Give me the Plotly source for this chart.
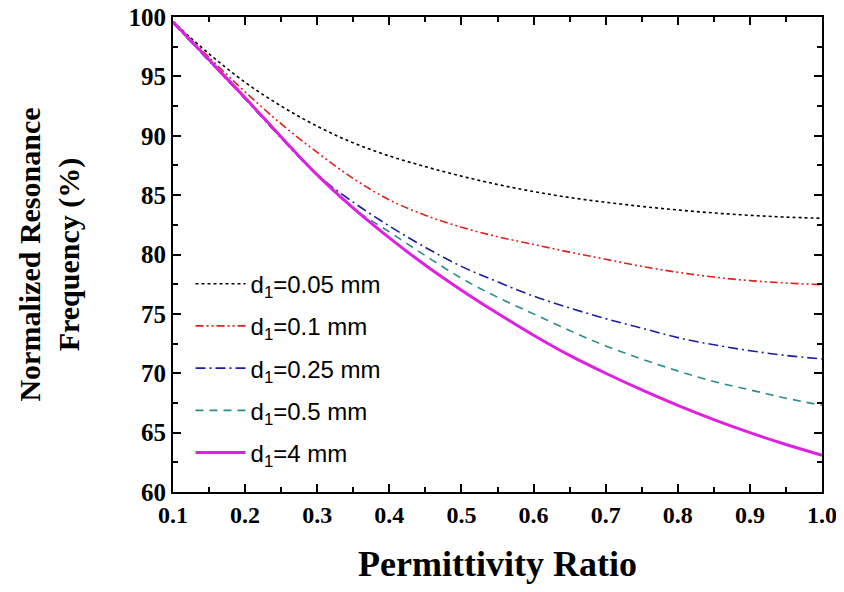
import plotly.graph_objects as go

permittivity_ratio = [0.10, 0.15, 0.20, 0.25, 0.30, 0.35, 0.40, 0.45, 0.50, 0.55,
                      0.60, 0.65, 0.70, 0.75, 0.80, 0.85, 0.90, 0.95, 1.00]

freq_d005 = [99.6, 96.9, 94.5, 92.5, 90.8, 89.4, 88.3, 87.4, 86.6, 85.9,
             85.3, 84.8, 84.4, 84.05, 83.75, 83.5, 83.3, 83.15, 83.05]
freq_d01 = [99.6, 96.6, 93.7, 91.0, 88.6, 86.4, 84.6, 83.3, 82.3, 81.5,
            80.85, 80.2, 79.6, 79.0, 78.5, 78.1, 77.8, 77.6, 77.45]
freq_d025 = [99.5, 96.3, 93.1, 89.8, 86.7, 84.4, 82.4, 80.6, 79.0, 77.7,
             76.5, 75.5, 74.6, 73.8, 73.0, 72.4, 71.9, 71.5, 71.2]
freq_d05 = [99.5, 96.3, 93.1, 89.9, 86.7, 83.9, 81.9, 79.9, 78.0, 76.4,
            75.0, 73.6, 72.3, 71.2, 70.2, 69.3, 68.6, 67.9, 67.3]
freq_d4 = [99.6, 96.4, 93.2, 89.9, 86.7, 83.9, 81.4, 79.1, 77.0, 75.05,
           73.2, 71.5, 70.0, 68.6, 67.3, 66.1, 65.0, 64.0, 63.1]

x_range = [0.1, 1.0]
y_range = [60, 100]

series_names = ["d<sub>1</sub>=0.05 mm", "d<sub>1</sub>=0.1 mm", "d<sub>1</sub>=0.25 mm",
                "d<sub>1</sub>=0.5 mm", "d<sub>1</sub>=4 mm"]
series_values = [freq_d005, freq_d01, freq_d025, freq_d05, freq_d4]
series_colors = ["#000000", "#e0201b", "#1c1ca8", "#2a8c8c", "#e020e0"]
series_dash = ["3px,3px", "8px,3px,2px,3px,2px,3px", "10px,4px,2px,4px", "8px,6px", "solid"]
series_width = [1.6, 1.6, 1.6, 1.6, 3]

fig = go.Figure()
for i, (name, vals) in enumerate(zip(series_names, series_values)):
    fig.add_trace(go.Scatter(
        x=permittivity_ratio, y=vals, mode="lines", name=name,
        legendgroup=f"g{i}",
        line=dict(color=series_colors[i], dash=series_dash[i], width=series_width[i], shape="spline"),
    ))

# invisible trace to carry the mirrored (top/right) axes with minor ticks
fig.add_trace(go.Scatter(
    x=permittivity_ratio, y=freq_d4, xaxis="x2", yaxis="y2", mode="lines",
    line=dict(width=0), opacity=0, showlegend=False, hoverinfo="skip",
))

serif = "Liberation Serif"
common = dict(
    showline=True, linecolor="black", linewidth=2,
    ticks="inside", ticklen=8, tickwidth=2, tickcolor="black",
    showgrid=False, zeroline=False, automargin=False,
)
minor_x = dict(ticks="inside", ticklen=5, tickwidth=1.5, tickcolor="black", dtick=0.05, tick0=0.1)
minor_y = dict(ticks="inside", ticklen=5, tickwidth=1.5, tickcolor="black", dtick=2.5, tick0=60)

fig.update_layout(
    xaxis=dict(
        range=x_range, dtick=0.1, tick0=0.1, tickformat=".1f",
        tickfont=dict(family=serif, size=24, color="black", weight="bold"),
        ticklabeloverflow="allow", minor=minor_x,
        title=dict(text="Permittivity Ratio",
                   font=dict(family=serif, size=36, color="black", weight="bold"), standoff=34),
        **common,
    ),
    yaxis=dict(
        range=y_range, dtick=5, tick0=60,
        tickfont=dict(family=serif, size=25, color="black", weight="bold"),
        ticklabeloverflow="allow", minor=minor_y,
        title=dict(text="Normalized Resonance<br>Frequency (%)",
                   font=dict(family=serif, size=30, color="black", weight="bold"), standoff=40),
        **common,
    ),
    xaxis2=dict(
        range=x_range, overlaying="x", side="top", anchor="y2", dtick=0.1, tick0=0.1,
        showticklabels=False, minor=minor_x, **common,
    ),
    yaxis2=dict(
        range=y_range, overlaying="y", side="right", anchor="x2", dtick=5, tick0=60,
        showticklabels=False, minor=minor_y, **common,
    ),
    width=828, height=576,
    margin=dict(l=165, r=14, t=9, b=92),
    paper_bgcolor="white", plot_bgcolor="white",
    showlegend=True,
    legend=dict(
        x=0.027, y=0.485, xanchor="left", yanchor="top",
        bgcolor="rgba(0,0,0,0)", borderwidth=0,
        font=dict(family="Liberation Sans", size=24, color="black"),
        tracegroupgap=8, itemwidth=50,
    ),
)

fig.write_html("out.html")
